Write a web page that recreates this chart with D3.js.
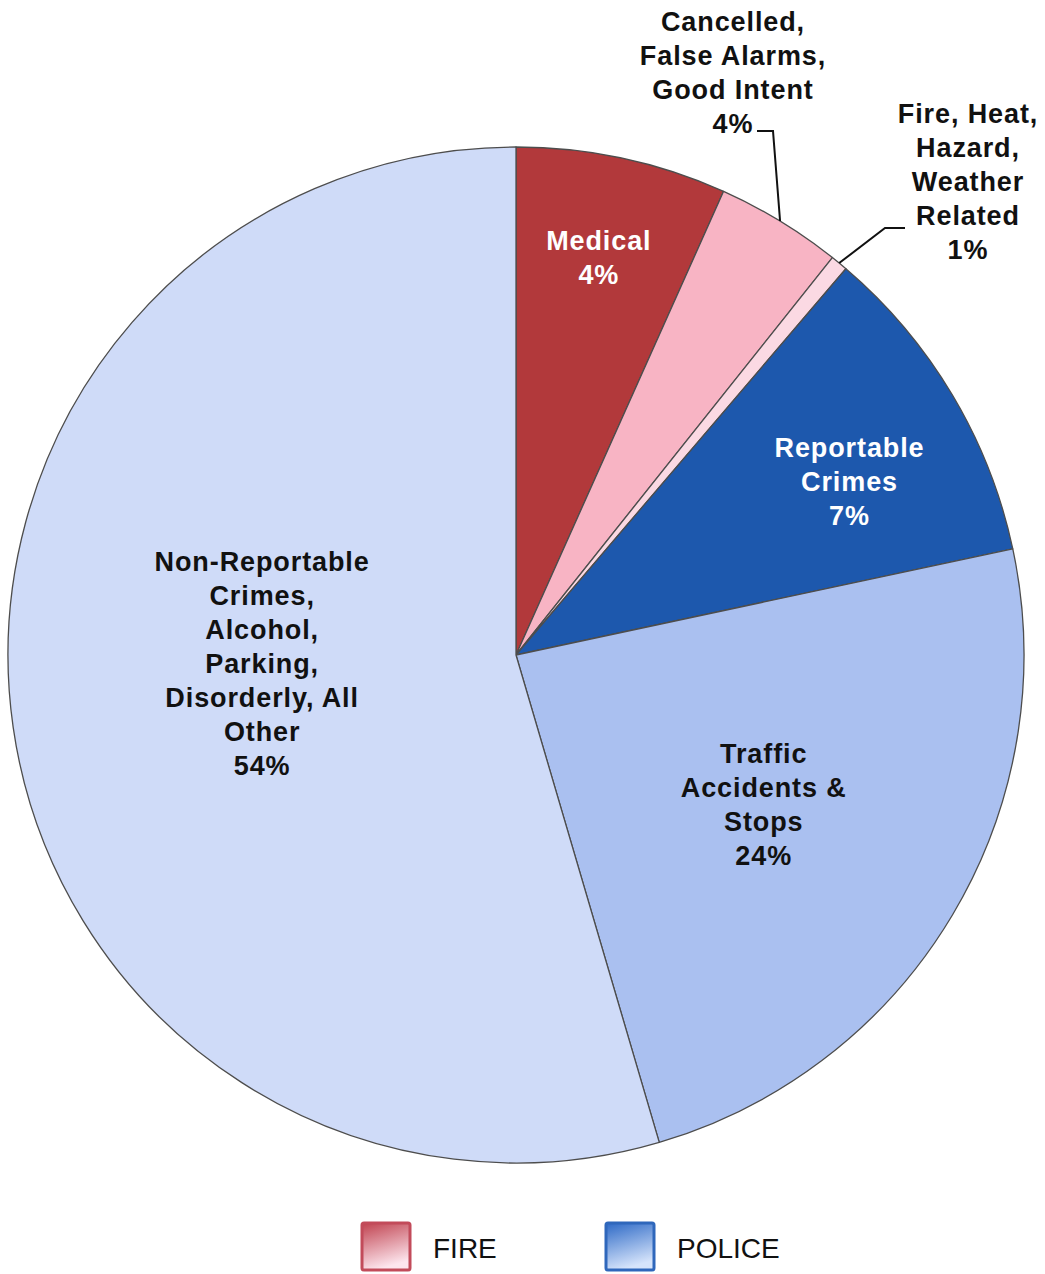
<!DOCTYPE html>
<html>
<head>
<meta charset="utf-8">
<script src="https://cdn.jsdelivr.net/npm/d3@7"></script>
<style>
  body { margin: 0; background: #fff; }
  text { font-family: Arial, "Liberation Sans", sans-serif; }
</style>
</head>
<body>
<div id="chart"></div>
<script>
// slice data, clockwise from 12 o'clock
const categories = ["Medical", "Cancelled", "FireHeat", "Reportable", "Traffic", "NonReportable"];
const shares = [6.7, 4.0, 0.55, 10.4, 23.8, 54.55];
const labels = [
  ["Medical", "4%"],
  ["Cancelled,", "False Alarms,", "Good Intent", "4%"],
  ["Fire, Heat,", "Hazard,", "Weather", "Related", "1%"],
  ["Reportable", "Crimes", "7%"],
  ["Traffic", "Accidents &", "Stops", "24%"],
  ["Non-Reportable", "Crimes,", "Alcohol,", "Parking,", "Disorderly, All", "Other", "54%"],
];
const legendNames = ["FIRE", "POLICE"];

const width = 1045;
const height = 1274;
const cx = 516, cy = 655, radius = 508;

const colorScale = d3.scaleOrdinal()
  .domain(categories)
  .range(["#b2393b", "#f8b4c4", "#fbd9e3", "#1d58ad", "#aac0f0", "#cfdbf8"]);

const textColor = {
  Medical: "#fff", Reportable: "#fff",
};

// where each label sits: fraction of radius and angle shift (deg) from slice middle
const labelPlace = {
  Medical: { r: 0.8, da: -0.3 },
  Reportable: { r: 0.74, da: 3.3 },
  Traffic: { r: 0.57, da: 0.4 },
  NonReportable: { r: 0.5, da: 6.3 },
};
// outside labels: text centre + elbow of leader line
const outside = {
  Cancelled: { x: 733, y: 22, elbow: [773, 131], end: [757, 131] },
  FireHeat: { x: 968, y: 114, elbow: [885, 228], end: [905, 228] },
};
const lineH = 34;

const svg = d3.select("#chart")
  .append("svg")
  .attr("width", width)
  .attr("height", height);

const pie = d3.pie().sort(null).value((d) => d.value);
const arc = d3.arc().innerRadius(0).outerRadius(radius);
const data = categories.map((c, i) => ({ name: c, value: shares[i], label: labels[i] }));
const arcs = pie(data);

const g = svg.append("g").attr("transform", `translate(${cx}, ${cy})`);

g.selectAll("path")
  .data(arcs)
  .enter()
  .append("path")
  .attr("d", arc)
  .attr("fill", (d) => colorScale(d.data.name))
  .attr("stroke", "#4d4d4d")
  .attr("stroke-width", 1.3)
  .attr("stroke-linejoin", "round");

function polar(angleRad, r) {
  return [Math.sin(angleRad) * r, -Math.cos(angleRad) * r];
}

arcs.forEach((d) => {
  const name = d.data.name;
  const lines = d.data.label;
  const mid = (d.startAngle + d.endAngle) / 2;
  let x, y;
  if (labelPlace[name]) {
    const p = labelPlace[name];
    const pt = polar(mid + (p.da * Math.PI) / 180, radius * p.r);
    x = cx + pt[0];
    y = cy + pt[1] - ((lines.length - 1) * lineH) / 2;
  } else {
    const o = outside[name];
    x = o.x;
    y = o.y;
    const edge = polar(mid, radius);
    svg.append("polyline")
      .attr("points", [[cx + edge[0], cy + edge[1]], o.elbow, o.end].map((q) => q.join(",")).join(" "))
      .attr("fill", "none")
      .attr("stroke", "#111")
      .attr("stroke-width", 2);
  }
  const t = svg.append("text")
    .attr("text-anchor", "middle")
    .attr("font-size", 27)
    .attr("font-weight", "bold")
    .attr("letter-spacing", 0.9)
    .attr("fill", textColor[name] || "#111");
  lines.forEach((ln, i) => {
    t.append("tspan")
      .attr("x", x)
      .attr("y", y + i * lineH)
      .attr("dy", "0.35em")
      .text(ln);
  });
});

// legend
const defs = svg.append("defs");
const legendGrad = [
  { id: "gFire", top: "#c0424f", bottom: "#fde6ee", stroke: "#c24b5a" },
  { id: "gPolice", top: "#2d69c6", bottom: "#d6e4fb", stroke: "#2f67bb" },
];
legendGrad.forEach((lg) => {
  const gr = defs.append("linearGradient")
    .attr("id", lg.id)
    .attr("x1", 0).attr("y1", 0).attr("x2", 0.3).attr("y2", 1);
  gr.append("stop").attr("offset", "0%").attr("stop-color", lg.top);
  gr.append("stop").attr("offset", "100%").attr("stop-color", lg.bottom);
});

const legendX = d3.scalePoint().domain(legendNames).range([362, 606]);
const leg = svg.selectAll(".leg")
  .data(legendNames)
  .enter()
  .append("g")
  .attr("class", "leg")
  .attr("transform", (d) => `translate(${legendX(d)}, 1223)`);

leg.append("rect")
  .attr("width", 48)
  .attr("height", 47)
  .attr("rx", 2)
  .attr("fill", (d, i) => `url(#${legendGrad[i].id})`)
  .attr("stroke", (d, i) => legendGrad[i].stroke)
  .attr("stroke-width", 3);

leg.append("text")
  .attr("x", 71)
  .attr("y", 25)
  .attr("dy", "0.35em")
  .attr("font-size", 28)
  .attr("fill", "#111")
  .text((d) => d);
</script>
</body>
</html>
